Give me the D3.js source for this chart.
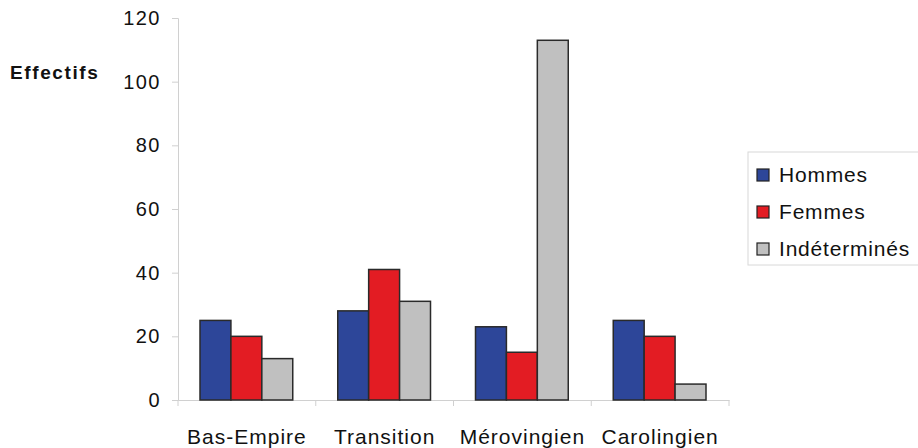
<!DOCTYPE html>
<html>
<head>
<meta charset="utf-8">
<script src="https://cdn.jsdelivr.net/npm/d3@7"></script>
<style>
  body { margin: 0; background: #fff; }
  svg { display: block; font-family: "Liberation Sans", Arial, sans-serif; }
</style>
</head>
<body>
<div id="chart"></div>
<script>
// data
const periods = ["Bas-Empire", "Transition", "Mérovingien", "Carolingien"];
const seriesNames = ["Hommes", "Femmes", "Indéterminés"];
const hommes = [25, 28, 23, 25];
const femmes = [20, 41, 15, 20];
const indetermines = [13, 31, 113, 5];
const yTicks = [0, 20, 40, 60, 80, 100, 120];
const colors = ["#2d4699", "#e31c23", "#c0c0c0"];

const W = 918, H = 448;
const margin = { top: 18, left: 178, bottom: 48, right: 189 };
const innerW = 729 - margin.left;
const innerH = 400 - margin.top;

const svg = d3.select("#chart").append("svg")
  .attr("width", W).attr("height", H);

const g = svg.append("g")
  .attr("transform", `translate(${margin.left},${margin.top})`);

const x = d3.scaleBand().domain(periods).range([0, innerW]).paddingInner(0).paddingOuter(0);
const x1 = d3.scaleBand().domain(seriesNames).range([22, x.bandwidth() - 23]).padding(0);
const y = d3.scaleLinear().domain([0, 120]).range([innerH, 0]);

const values = [hommes, femmes, indetermines];
const rows = periods.map((p, i) => ({
  period: p,
  items: seriesNames.map((s, j) => ({ name: s, value: values[j][i], color: colors[j] }))
}));

// y axis
const yAxis = g.append("g")
  .call(d3.axisLeft(y).tickValues(yTicks).tickSize(6).tickPadding(11));
yAxis.select(".domain").attr("stroke", "#d0d0d0");
yAxis.selectAll(".tick line").attr("stroke", "#d0d0d0");
yAxis.selectAll(".tick text").attr("font-size", 20).attr("fill", "#111")
  .attr("letter-spacing", 1.5)
  .attr("font-family", "Liberation Sans, Arial, sans-serif");

// x axis
const xAxis = g.append("g")
  .attr("transform", `translate(0,${innerH})`)
  .call(d3.axisBottom(x).tickSize(0).tickPadding(29));
xAxis.select(".domain").attr("stroke", "#d0d0d0");
xAxis.selectAll(".tick text").attr("font-size", 21).attr("fill", "#111")
  .attr("letter-spacing", 1)
  .attr("font-family", "Liberation Sans, Arial, sans-serif");
// category separators
g.append("g").selectAll("line")
  .data(periods.concat([null]))
  .join("line")
  .attr("x1", (d, i) => i * x.bandwidth())
  .attr("x2", (d, i) => i * x.bandwidth())
  .attr("y1", innerH)
  .attr("y2", innerH + 6)
  .attr("stroke", "#d0d0d0");

// bars
g.append("g").selectAll("g")
  .data(rows)
  .join("g")
  .attr("transform", d => `translate(${x(d.period)},0)`)
  .selectAll("rect")
  .data(d => d.items)
  .join("rect")
  .attr("x", d => x1(d.name))
  .attr("width", x1.bandwidth())
  .attr("y", d => y(d.value))
  .attr("height", d => innerH - y(d.value))
  .attr("fill", d => d.color)
  .attr("stroke", "#2a2a2a")
  .attr("stroke-width", 1.5);

// y title
svg.append("text")
  .attr("x", 10).attr("y", 79)
  .attr("font-size", 19).attr("font-weight", "bold")
  .attr("letter-spacing", 1.6)
  .attr("fill", "#111")
  .text("Effectifs");

// legend
const legend = svg.append("g").attr("transform", "translate(748,152)");
legend.append("rect")
  .attr("width", 190).attr("height", 113)
  .attr("fill", "#fff").attr("stroke", "#d8d8d8");
const li = legend.selectAll("g.item")
  .data(seriesNames)
  .join("g").attr("class", "item")
  .attr("transform", (d, i) => `translate(9,${23 + i * 37})`);
li.append("rect")
  .attr("y", -6).attr("width", 12).attr("height", 12)
  .attr("fill", (d, i) => colors[i])
  .attr("stroke", "#222").attr("stroke-width", 1.2);
li.append("text")
  .attr("x", 22).attr("dy", "0.35em")
  .attr("font-size", 21).attr("fill", "#111")
  .attr("letter-spacing", 0.8)
  .text(d => d);
</script>
</body>
</html>
